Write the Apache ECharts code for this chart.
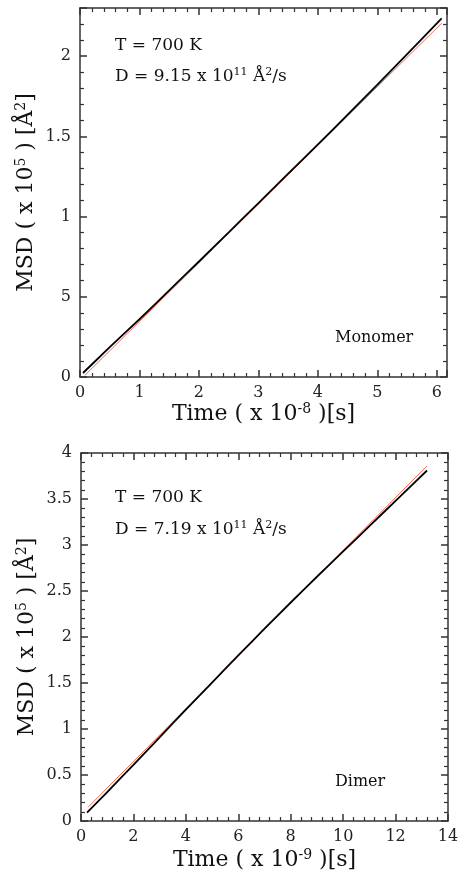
<!DOCTYPE html>
<html>
<head>
<meta charset="utf-8">
<script src="https://cdn.jsdelivr.net/npm/echarts@6/dist/echarts.min.js"></script>
<style>
  html, body { margin: 0; padding: 0; background: #fff; }
  #chart { width: 459px; height: 872px; }
</style>
</head>
<body>
<div id="chart"></div>
<script>
// monomer run (time in 1e-8 s, MSD in 1e5 A^2)
const monoTime = [0.05, 0.5, 1, 1.5, 2, 2.5, 3, 3.5, 4, 4.5, 5, 5.5, 6.08];
const monoMsd = [0.025, 0.186, 0.36, 0.54, 0.72, 0.902, 1.084, 1.267, 1.45, 1.635, 1.822, 2.013, 2.235];
const monoFitTime = [0.08, 6.08];
const monoFitMsd = [0.01, 2.205];

// dimer run (time in 1e-9 s)
const dimerTime = [0.23, 1, 2, 3, 4, 5, 6, 7, 8, 9, 10, 11, 12, 13.2];
const dimerMsd = [0.09, 0.315, 0.61, 0.91, 1.21, 1.505, 1.8, 2.09, 2.375, 2.655, 2.93, 3.205, 3.48, 3.81];
const dimerFitTime = [0.27, 13.2];
const dimerFitMsd = [0.15, 3.86];

const zip = (xs, ys) => xs.map((x, i) => [x, ys[i]]);

const font = 'DejaVu Serif';
const axisColor = '#333';
const fitColor = '#ee6a50';

const supStyle = { fontFamily: font, fontSize: 14, color: '#111', verticalAlign: 'top', padding: [0, 0, 11, 0] };

function xAxisPair(grid, max, interval, name, gap) {
  const base = {
    gridIndex: grid,
    type: 'value',
    min: 0,
    max: max,
    interval: interval,
    splitLine: { show: false },
    axisLine: { onZero: false, lineStyle: { color: axisColor, width: 1.5 } },
    axisTick: { inside: true, length: 7, lineStyle: { color: axisColor, width: 1.5 } },
    minorTick: { show: true, splitNumber: 5, length: 4, lineStyle: { color: axisColor, width: 1.2 } }
  };
  return [
    Object.assign({}, base, {
      position: 'bottom',
      axisLabel: { color: '#222', fontFamily: font, fontSize: 16, margin: 8 },
      name: name,
      nameLocation: 'middle',
      nameGap: gap,
      nameMoveOverlap: false,
      nameTextStyle: { color: '#111', fontFamily: font, fontSize: 22, rich: { sup: supStyle } }
    }),
    Object.assign({}, base, { position: 'top', axisLabel: { show: false } })
  ];
}

function yAxisPair(grid, max, fmt, showMax) {
  const base = {
    gridIndex: grid,
    type: 'value',
    min: 0,
    max: max,
    interval: 0.5,
    splitLine: { show: false },
    axisLine: { onZero: false, lineStyle: { color: axisColor, width: 1.5 } },
    axisTick: { inside: true, length: 7, lineStyle: { color: axisColor, width: 1.5 } },
    minorTick: { show: true, splitNumber: 5, length: 4, lineStyle: { color: axisColor, width: 1.2 } }
  };
  return [
    Object.assign({}, base, {
      position: 'left',
      axisLabel: { color: '#222', fontFamily: font, fontSize: 16, margin: 9, formatter: fmt, showMaxLabel: showMax },
      name: 'MSD ( x 10{sup|5} ) [Å{sup|2}]',
      nameLocation: 'middle',
      nameGap: 41,
      nameMoveOverlap: false,
      nameTextStyle: { color: '#111', fontFamily: font, fontSize: 22, rich: { sup: supStyle } }
    }),
    Object.assign({}, base, { position: 'right', axisLabel: { show: false } })
  ];
}

const topX = xAxisPair(0, 6.17, 1, 'Time ( x 10{sup|-8} )[s]', 25);
const botX = xAxisPair(1, 14, 2, 'Time ( x 10{sup|-9} )[s]', 27);
// the top panel prints "5" where 0.5 belongs
const topY = yAxisPair(0, 2.3, v => (v === 0.5 ? '5' : String(v)), false);
const botY = yAxisPair(1, 4, v => String(v), true);

function note(x, y, text, size) {
  return {
    type: 'text',
    left: x,
    top: y,
    style: {
      text: text,
      fill: '#111',
      font: size + 'px "DejaVu Serif"',
      rich: { sup: { fontFamily: font, fontSize: 11, fill: '#111', verticalAlign: 'top', padding: [0, 0, 8, 0] } }
    }
  };
}

const chart = echarts.init(document.getElementById('chart'));
chart.setOption({
  animation: false,
  backgroundColor: '#fff',
  grid: [
    { left: 80, top: 8, width: 367, height: 369, outerBoundsMode: 'none' },
    { left: 81, top: 453, width: 367, height: 368, outerBoundsMode: 'none' }
  ],
  xAxis: [topX[0], topX[1], botX[0], botX[1]],
  yAxis: [topY[0], topY[1], botY[0], botY[1]],
  graphic: [
    note(115, 37, 'T = 700 K', 17),
    note(115, 67, 'D = 9.15 x 10{sup|11} Å{sup|2}/s', 17),
    note(335, 330, 'Monomer', 16),
    note(115, 489, 'T = 700 K', 17),
    note(115, 520, 'D = 7.19 x 10{sup|11} Å{sup|2}/s', 17),
    note(335, 774, 'Dimer', 16)
  ],
  series: [
    {
      type: 'line', xAxisIndex: 0, yAxisIndex: 0, showSymbol: false,
      data: zip(monoFitTime, monoFitMsd),
      lineStyle: { color: fitColor, width: 1 }
    },
    {
      type: 'line', xAxisIndex: 0, yAxisIndex: 0, showSymbol: false, smooth: 0.2,
      data: zip(monoTime, monoMsd),
      lineStyle: { color: '#000', width: 1.8 }
    },
    {
      type: 'line', xAxisIndex: 2, yAxisIndex: 2, showSymbol: false,
      data: zip(dimerFitTime, dimerFitMsd),
      lineStyle: { color: fitColor, width: 1 }
    },
    {
      type: 'line', xAxisIndex: 2, yAxisIndex: 2, showSymbol: false, smooth: 0.2,
      data: zip(dimerTime, dimerMsd),
      lineStyle: { color: '#000', width: 1.8 }
    }
  ]
});
</script>
</body>
</html>
